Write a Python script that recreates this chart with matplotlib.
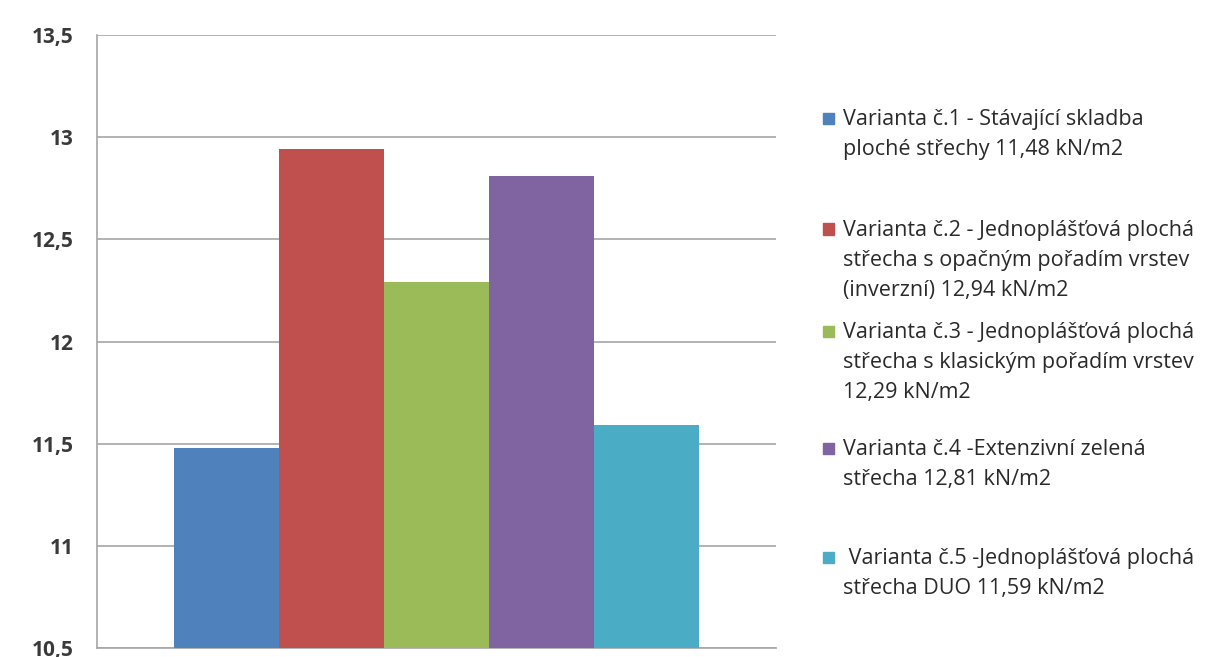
import matplotlib
matplotlib.use('Agg')
import matplotlib.pyplot as plt
import numpy as np
from matplotlib.patches import Rectangle

values = [11.48, 12.94, 12.29, 12.81, 11.59]
colors = ['#4F81BD', '#C0504D', '#9BBB59', '#8064A2', '#4BACC6']
labels = [
    'Varianta č.1 - Stávající skladba\nploché střechy 11,48 kN/m2',
    'Varianta č.2 - Jednoplášťová plochá\nstřecha s opačným pořadím vrstev\n(inverzní) 12,94 kN/m2',
    'Varianta č.3 - Jednoplášťová plochá\nstřecha s klasickým pořadím vrstev\n12,29 kN/m2',
    'Varianta č.4 -Extenzivní zelená\nstřecha 12,81 kN/m2',
    ' Varianta č.5 -Jednoplášťová plochá\nstřecha DUO 11,59 kN/m2',
]
yticks = [10.5, 11, 11.5, 12, 12.5, 13, 13.5]
ytick_labels = ['10,5', '11', '11,5', '12', '12,5', '13', '13,5']

plt.rcParams['font.family'] = ['Open Sans', 'DejaVu Sans']

fig = plt.figure(figsize=(12.23, 6.57), dpi=100)
ax = fig.add_axes([97/1223, 1 - 648/657, (776 - 97)/1223, (648 - 35)/657])

# grouped bars, one category
group_w = 525 / 679
w = group_w / len(values)
start = 0.5 - group_w / 2
for i, (v, c) in enumerate(zip(values, colors)):
    ax.bar(start + w * (i + 0.5), v - 10.5, bottom=10.5, width=w, color=c, zorder=3)

ax.set_xlim(0, 1)
ax.set_ylim(10.5, 13.5)
ax.set_yticks(yticks)
ax.set_yticklabels(ytick_labels, fontsize=15, fontweight='bold', color='#3a3a3a')
ax.set_xticks([])
ax.tick_params(axis='y', length=0, pad=17)
ax.grid(axis='y', color='#a6a6a6', linewidth=1.2, zorder=0)
for s in ['top', 'right']:
    ax.spines[s].set_visible(False)
for s in ['left', 'bottom']:
    ax.spines[s].set_color('#a6a6a6')
    ax.spines[s].set_linewidth(1.2)

# legend, laid out like the original
first_line_y = [118, 229, 331, 448, 557]
for lab, c, y in zip(labels, colors, first_line_y):
    fig.patches.append(Rectangle((823/1223, 1 - (y + 5.5)/657), 11/1223, 11/657,
                                 color=c, transform=fig.transFigure, figure=fig))
    fig.text(843/1223, 1 - (y - 9)/657, lab, fontsize=15.5, color='#2a2a2a',
             va='top', ha='left', linespacing=1.56)

fig.savefig('out.png', dpi=100)
